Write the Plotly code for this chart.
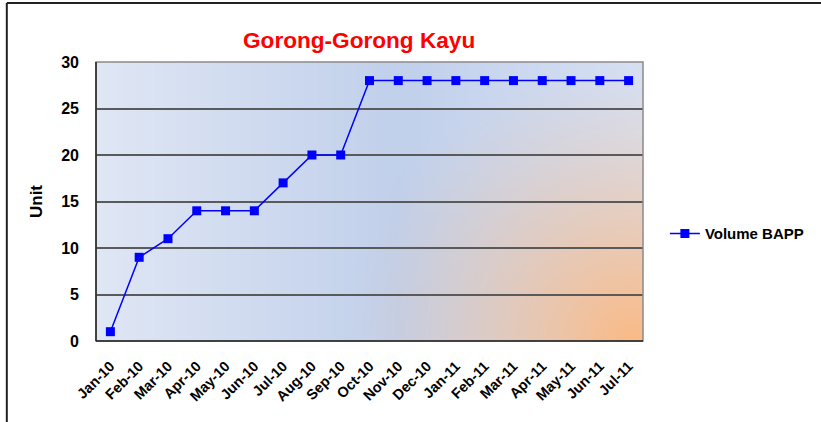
import base64, struct, zlib
import numpy as np
import plotly.graph_objects as go

months = ["Jan-10", "Feb-10", "Mar-10", "Apr-10", "May-10", "Jun-10", "Jul-10",
          "Aug-10", "Sep-10", "Oct-10", "Nov-10", "Dec-10", "Jan-11", "Feb-11",
          "Mar-11", "Apr-11", "May-11", "Jun-11", "Jul-11"]
volume_bapp = [1, 9, 11, 14, 14, 14, 17, 20, 20, 28, 28, 28, 28, 28, 28, 28, 28, 28, 28]
y_ticks = [0, 5, 10, 15, 20, 25, 30]

# ---- background gradient image (style only) ----
W, H = 552, 279
xx, yy = np.meshgrid(np.arange(W), np.arange(H))
t = xx / (W - 1)
c0 = np.array([224, 231, 245.0])
c1 = np.array([193, 208, 235.0])
c2 = np.array([214, 225, 245.0])
a = np.clip(t / 0.55, 0, 1)[..., None]
b = np.clip((t - 0.55) / 0.45, 0, 1)[..., None]
base = np.where((t < 0.55)[..., None], c0 * (1 - a) + c1 * a, c1 * (1 - b) + c2 * b)
d = np.sqrt((xx - W * 0.98) ** 2 + (yy - H * 1.0) ** 2) / 290.0
w = (np.clip(1 - d, 0, 1) ** 1.3)[..., None]
orange = np.array([250, 186, 134.0])
img = np.clip(base * (1 - w) + orange * w, 0, 255).astype(np.uint8)

def png_bytes(arr):
    h, wd, _ = arr.shape
    raw = b"".join(b"\x00" + arr[r].tobytes() for r in range(h))
    def chunk(tag, data):
        c = struct.pack(">I", len(data)) + tag + data
        return c + struct.pack(">I", zlib.crc32(tag + data) & 0xffffffff)
    return (b"\x89PNG\r\n\x1a\n" + chunk(b"IHDR", struct.pack(">IIBBBBB", wd, h, 8, 2, 0, 0, 0))
            + chunk(b"IDAT", zlib.compress(raw, 9)) + chunk(b"IEND", b""))

uri = "data:image/png;base64," + base64.b64encode(png_bytes(img)).decode()

FONT = "Liberation Sans, Arial"

fig = go.Figure()
fig.add_trace(go.Scatter(
    x=months, y=volume_bapp, mode="lines+markers", name="<b>Volume BAPP</b>",
    line=dict(color="#0000ff", width=1.5),
    marker=dict(symbol="square", size=9, color="#0000ff"),
))

fig.update_layout(
    width=821, height=422,
    margin=dict(l=96, r=173, t=62, b=81),
    paper_bgcolor="white", plot_bgcolor="rgba(0,0,0,0)",
    font=dict(family=FONT, color="black"),
    title=dict(text="<b>Gorong-Gorong Kayu</b>", x=0.481, xref="paper", xanchor="center",
               y=1 - 40 / 422, yref="container", yanchor="middle",
               font=dict(size=22.6, color="#ff0000", family=FONT)),
    showlegend=True,
    legend=dict(x=1.04, y=0.384, xanchor="left", yanchor="middle",
                font=dict(size=15, family=FONT, color="black"),
                bgcolor="rgba(0,0,0,0)"),
    images=[dict(source=uri, xref="paper", yref="paper", x=0, y=1, sizex=1, sizey=1,
                 sizing="stretch", layer="below", xanchor="left", yanchor="top")],
    shapes=[
        dict(type="rect", xref="paper", yref="paper", x0=0, y0=0, x1=1, y1=1,
             line=dict(color="#8a8a8a", width=1.5), layer="above"),
        dict(type="line", xref="paper", yref="paper", x0=0, y0=0, x1=1, y1=0,
             line=dict(color="#222222", width=1.5), layer="above"),
        dict(type="line", xref="paper", yref="paper", x0=0, y0=0, x1=0, y1=1,
             line=dict(color="#222222", width=1.5), layer="above"),
        # outer chart frame
        dict(type="line", xref="paper", yref="paper", x0=-90/552, y0=-2, x1=-90/552, y1=(341-3)/279,
             line=dict(color="#222222", width=2)),
        dict(type="line", xref="paper", yref="paper", x0=-90/552, y0=(341-3)/279, x1=2, y1=(341-3)/279,
             line=dict(color="#222222", width=2)),
    ],
)

fig.update_xaxes(
    type="category", range=[-0.5, len(months) - 0.5],
    tickangle=-45, showgrid=False, zeroline=False, ticks="",
    tickfont=dict(size=14.5, family=FONT),
    tickprefix="<b>", ticksuffix="</b>", ticklabelstandoff=13,
)
fig.update_yaxes(
    range=[0, 30], tickvals=y_ticks, ticktext=[f"<b>{v}</b>" for v in y_ticks],
    showgrid=True, gridcolor="#5a5a5a", gridwidth=1.5, zeroline=False, ticks="",
    tickfont=dict(size=16, family=FONT), ticklabelstandoff=16,
    title=dict(text="<b>Unit</b>", font=dict(size=17, family=FONT), standoff=14),
)

fig.write_html("out.html", config={"displayModeBar": False},
               post_script="document.body.style.margin='0px';")
